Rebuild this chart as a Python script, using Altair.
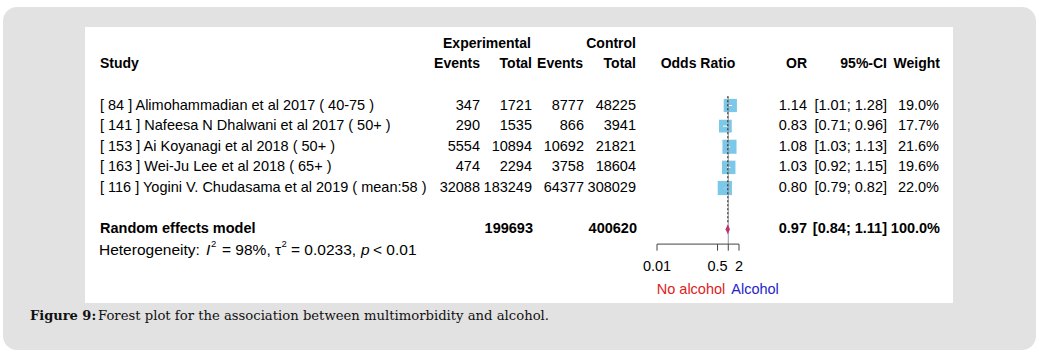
import altair as alt
import pandas as pd

# ---------------- data ----------------
studies = [
    "[ 84 ] Alimohammadian et al 2017 ( 40-75 )",
    "[ 141 ] Nafeesa N Dhalwani et al 2017 ( 50+ )",
    "[ 153 ] Ai Koyanagi et al 2018 ( 50+ )",
    "[ 163 ] Wei-Ju Lee et al 2018 ( 65+ )",
    "[ 116 ] Yogini V. Chudasama et al 2019 ( mean:58 )",
]
exp_events = [347, 290, 5554, 474, 32088]
exp_total = [1721, 1535, 10894, 2294, 183249]
ctrl_events = [8777, 866, 10692, 3758, 64377]
ctrl_total = [48225, 3941, 21821, 18604, 308029]
odds = [1.14, 0.83, 1.08, 1.03, 0.80]
ci_low = [1.01, 0.71, 1.03, 0.92, 0.79]
ci_high = [1.28, 0.96, 1.13, 1.15, 0.82]
weights = [19.0, 17.7, 21.6, 19.6, 22.0]

re_label = "Random effects model"
re_exp_total = 199693
re_ctrl_total = 400620
re_or = 0.97
re_low = 0.84
re_high = 1.11
re_weight = 100.0

het_i2 = "98%"
het_tau2 = "0.0233"
het_p = "< 0.01"

tick_values = [0.01, 0.5, 1, 2]
tick_labels = ["0.01", "0.5", "2"]
tick_label_values = [0.01, 0.5, 2]

# ---------------- layout helpers ----------------
FONT = "Liberation Sans"
FS = 14.5
rows = list(range(len(studies)))
RE_ROW = 6
HET_ROW = 7.0
AXIS_ROW = 6.72
TICK_END = 7.04
TICKLAB_ROW = 7.85
LEG_ROW = 8.95

XS = alt.Scale(type="log", domain=[0.01, 2], range=[657, 739], nice=False)
YS = alt.Scale(type="linear", domain=[0, 4], range=[105.5, 188], nice=False, zero=False)


def ycode(field="row"):
    return alt.Y(f"{field}:Q", scale=YS, axis=None)


def text_col(labels, row_vals, x_px, align="right", bold=False, italic=False,
             color="black", size=FS, font=FONT):
    df = pd.DataFrame({"row": row_vals, "label": [str(v) for v in labels]})
    return alt.Chart(df).mark_text(
        align=align, baseline="middle", font=font, fontSize=size,
        fontWeight="bold" if bold else "normal",
        fontStyle="italic" if italic else "normal", color=color,
    ).encode(x=alt.value(x_px), y=ycode(), text="label:N")


one = pd.DataFrame({"a": [0]})

bg = alt.Chart(one).mark_rect(color="#e2e2e2", cornerRadius=14).encode(
    x=alt.value(3), x2=alt.value(1036), y=alt.value(7), y2=alt.value(350))
panel = alt.Chart(one).mark_rect(color="white").encode(
    x=alt.value(85), x2=alt.value(953), y=alt.value(27), y2=alt.value(303))

layers = [bg, panel]

# headers
HS = 14
layers += [
    text_col(["Experimental"], [-3], 487, align="center", bold=True, size=HS),
    text_col(["Control"], [-3], 636, align="right", bold=True, size=HS),
    text_col(["Study"], [-2], 100, align="left", bold=True, size=HS),
    text_col(["Events"], [-2], 480, bold=True, size=HS),
    text_col(["Total"], [-2], 532, bold=True, size=HS),
    text_col(["Events"], [-2], 583, bold=True, size=HS),
    text_col(["Total"], [-2], 636, bold=True, size=HS),
    text_col(["Odds Ratio"], [-2], 698, align="center", bold=True, size=HS),
    text_col(["OR"], [-2], 807, bold=True, size=HS),
    text_col(["95%-CI"], [-2], 887, bold=True, size=HS),
    text_col(["Weight"], [-2], 940, bold=True, size=HS),
]

# study rows
layers += [
    text_col(studies, rows, 100, align="left"),
    text_col(exp_events, rows, 480),
    text_col(exp_total, rows, 532),
    text_col(ctrl_events, rows, 584),
    text_col(ctrl_total, rows, 636),
    text_col([f"{v:.2f}" for v in odds], rows, 807),
    text_col([f"[{a:.2f}; {b:.2f}]" for a, b in zip(ci_low, ci_high)], rows, 887),
    text_col([f"{w:.1f}%" for w in weights], rows, 939),
]

# random effects row
layers += [
    text_col([re_label], [RE_ROW], 100, align="left", bold=True),
    text_col([re_exp_total], [RE_ROW], 533, bold=True),
    text_col([re_ctrl_total], [RE_ROW], 637, bold=True),
    text_col([f"{re_or:.2f}"], [RE_ROW], 807, bold=True),
    text_col([f"[{re_low:.2f}; {re_high:.2f}]"], [RE_ROW], 887, bold=True),
    text_col([f"{re_weight:.1f}%"], [RE_ROW], 940, bold=True),
]

# heterogeneity (with small raised superscripts)
HF = 15.5
SUP = HET_ROW - 0.28
layers += [
    text_col(["Heterogeneity:"], [HET_ROW], 99, align="left", size=HF),
    text_col(["I"], [HET_ROW], 206, align="left", italic=True, size=HF),
    text_col(["2"], [SUP], 211, align="left", size=9.5),
    text_col([f"= {het_i2}, τ"], [HET_ROW], 222, align="left", size=HF),
    text_col(["2"], [SUP], 281.5, align="left", size=9.5),
    text_col([f"= {het_tau2},"], [HET_ROW], 291, align="left", size=HF),
    text_col(["p"], [HET_ROW], 361, align="left", italic=True, size=HF),
    text_col([het_p], [HET_ROW], 373, align="left", size=HF),
]

# forest graphics
sdf = pd.DataFrame({"row": rows, "or": odds, "lo": ci_low, "hi": ci_high, "w": weights})

ref_solid = alt.Chart(pd.DataFrame({"x": [1], "y": [-0.45], "y2": [AXIS_ROW]})).mark_rule(
    color="#9a9a9a", strokeWidth=1).encode(
    x=alt.X("x:Q", scale=XS, axis=None), y=ycode("y"), y2="y2:Q")
ref_dash = alt.Chart(pd.DataFrame({"x": [re_or], "y": [-0.45], "y2": [5.75]})).mark_rule(
    color="#222222", strokeWidth=1, strokeDash=[2, 2]).encode(
    x=alt.X("x:Q", scale=XS, axis=None), y=ycode("y"), y2="y2:Q")

squares = alt.Chart(sdf).mark_square(color="#7cc8e8", opacity=1).encode(
    x=alt.X("or:Q", scale=XS, axis=None), y=ycode(),
    size=alt.Size("w:Q", scale=alt.Scale(domain=[0, 25], range=[0, 230]), legend=None))
ci = alt.Chart(sdf).mark_rule(color="white", strokeWidth=1).encode(
    x=alt.X("lo:Q", scale=XS, axis=None), x2="hi:Q", y=ycode())

ddf = pd.DataFrame({"x": [re_low, re_or, re_high],
                    "y": [RE_ROW, RE_ROW - 0.24, RE_ROW],
                    "y2": [RE_ROW, RE_ROW + 0.24, RE_ROW]})
diamond = alt.Chart(ddf).mark_area(color="#c0306b", opacity=1).encode(
    x=alt.X("x:Q", scale=XS, axis=None), y=ycode("y"), y2="y2:Q")

axis_line = alt.Chart(pd.DataFrame({"x": [tick_values[0]], "x2": [tick_values[-1]], "row": [AXIS_ROW]})).mark_rule(
    color="#444444", strokeWidth=1).encode(
    x=alt.X("x:Q", scale=XS, axis=None), x2="x2:Q", y=ycode())
ticks = alt.Chart(pd.DataFrame({"x": tick_values, "y": [AXIS_ROW] * len(tick_values),
                                "y2": [TICK_END] * len(tick_values)})).mark_rule(
    color="#444444", strokeWidth=1).encode(
    x=alt.X("x:Q", scale=XS, axis=None), y=ycode("y"), y2="y2:Q")
tick_text = alt.Chart(pd.DataFrame({"x": tick_label_values, "row": [TICKLAB_ROW] * 3,
                                    "label": tick_labels})).mark_text(
    font=FONT, fontSize=FS, color="black", align="center", baseline="middle").encode(
    x=alt.X("x:Q", scale=XS, axis=None), y=ycode(), text="label:N")

leg_left = alt.Chart(pd.DataFrame({"x": [1], "row": [LEG_ROW], "label": ["No alcohol"]})).mark_text(
    font=FONT, fontSize=FS, color="#dd2222", align="right", baseline="middle", dx=-3).encode(
    x=alt.X("x:Q", scale=XS, axis=None), y=ycode(), text="label:N")
leg_right = alt.Chart(pd.DataFrame({"x": [1], "row": [LEG_ROW], "label": ["Alcohol"]})).mark_text(
    font=FONT, fontSize=FS, color="#2424c8", align="left", baseline="middle", dx=3).encode(
    x=alt.X("x:Q", scale=XS, axis=None), y=ycode(), text="label:N")

layers += [squares, ci, ref_solid, ref_dash, diamond, axis_line, ticks, tick_text, leg_left, leg_right]

# caption
CAPFONT = "DejaVu Serif"
cap_bold = alt.Chart(pd.DataFrame({"t": ["Figure 9:"]})).mark_text(
    font=CAPFONT, fontSize=13, fontWeight="bold", align="left", baseline="middle", color="#111111").encode(
    x=alt.value(30), y=alt.value(316), text="t:N")
cap_rest = alt.Chart(pd.DataFrame({"t": ["Forest plot for the association between multimorbidity and alcohol."]})).mark_text(
    font=CAPFONT, fontSize=13.2, align="left", baseline="middle", color="#111111").encode(
    x=alt.value(98), y=alt.value(316), text="t:N")
layers += [cap_bold, cap_rest]

chart = alt.layer(*layers).properties(
    width=1039, height=355, padding=0, autosize="none", background="white"
).configure_view(stroke=None)

chart.save("out.html", embed_options={"renderer": "svg", "actions": False})
